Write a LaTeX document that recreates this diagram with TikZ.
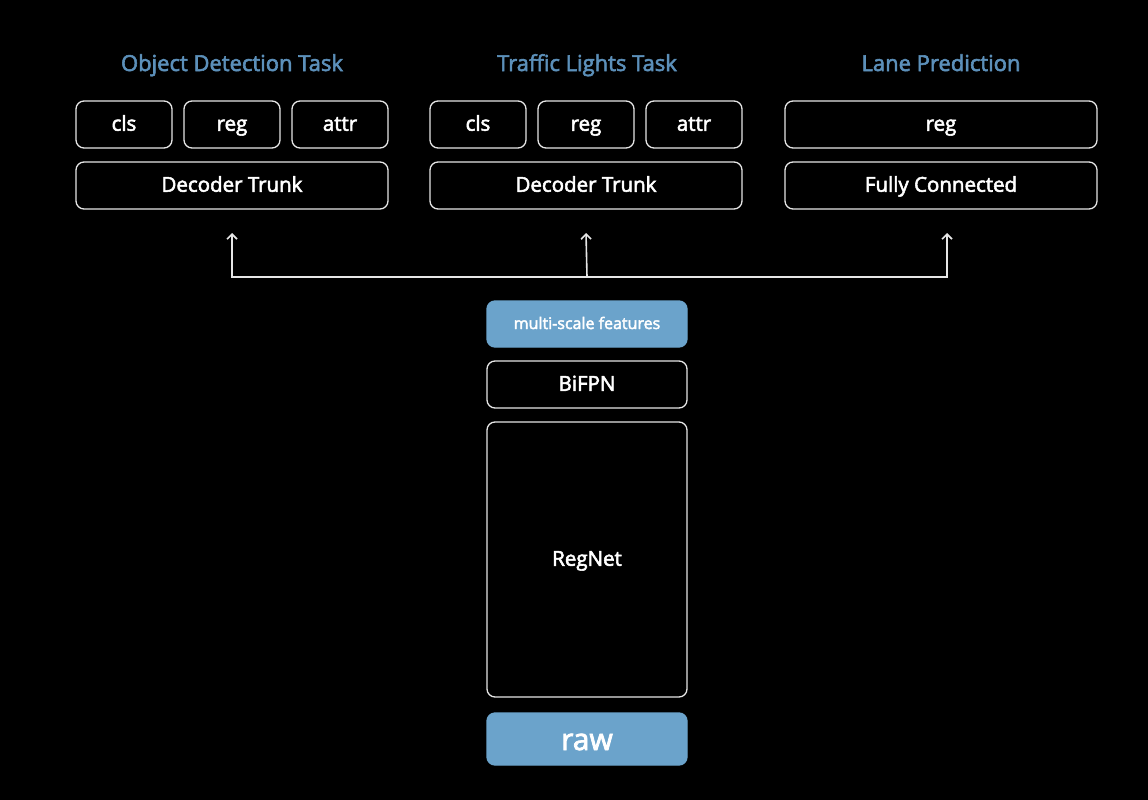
\documentclass[tikz,border=0pt]{standalone}
\usepackage{fontspec}
\setmainfont{Open Sans}
\newfontfamily\medfont{Open Sans}[FakeBold=2.6]
\usetikzlibrary{positioning,arrows.meta}
\definecolor{skyfill}{HTML}{6BA3CB}
\definecolor{tasktitle}{HTML}{5C90BA}
\definecolor{edge}{HTML}{E6E6E6}

\tikzset{
  box/.style={draw=edge, line width=1.3pt, rounded corners=8pt, minimum height=47pt, inner sep=0pt, outer sep=0pt,
    text=white, text height=14pt, text depth=1.5pt, font=\medfont\fontsize{20.5}{20.5}\selectfont},
  head/.style={box, minimum width=96pt},
  trunk/.style={box, minimum width=312pt},
  col/.style={box, minimum width=200pt},
  filled/.style={col, fill=skyfill, draw=skyfill},
  title/.style={text=tasktitle, anchor=base, inner sep=0pt, font=\medfont\fontsize{22}{22}\selectfont},
  link/.style={-{Straight Barb[length=5pt,width=10pt]}, draw=edge, line width=1.6pt},
}

\begin{document}
\begin{tikzpicture}[x=1pt, y=1pt, node distance=12pt]
\fill[black] (0,0) rectangle (1148,-800);
\useasboundingbox (0,0) rectangle (1148,-800);

% object detection
\node (cls1) [head] at (124,-124.5) {cls};
\node (reg1) [head, right=of cls1] {reg};
\node (attr1) [head, right=of reg1] {attr};
\node (trunk1) [trunk, below=14pt of reg1] {Decoder Trunk};
\node (task1) [title] at (232,-71) {Object Detection Task};

% traffic lights
\node (cls2) [head] at (478,-124.5) {cls};
\node (reg2) [head, right=of cls2] {reg};
\node (attr2) [head, right=of reg2] {attr};
\node (trunk2) [trunk, below=14pt of reg2] {Decoder Trunk};
\node (task2) [title] at (587,-71) {Traffic Lights Task};

% lanes
\node (reg3) [trunk] at (941,-124.5) {reg};
\node (fc3) [trunk, below=14pt of reg3] {Fully Connected};
\node (task3) [title] at (941,-71) {Lane Prediction};

% backbone
\node (multi) [filled, minimum height=46pt, text height=11pt, text depth=1pt, font=\medfont\fontsize{16}{16}\selectfont] at (587,-324) {multi-scale features};
\node (bifpn) [col, below=14pt of multi] {BiFPN};
\node (regnet) [col, minimum height=275pt, below=14pt of bifpn] {RegNet};
\node (raw) [filled, minimum height=52pt, below=16pt of regnet, text height=22pt, text depth=0pt, font=\medfont\fontsize{30}{30}\selectfont] {raw};

\coordinate (bus) at (587,-277);
\coordinate (tip1) at ([yshift=-24pt]trunk1.south);
\coordinate (tip2) at ([yshift=-24pt]trunk2.south);
\coordinate (tip3) at ([xshift=6pt, yshift=-24pt]fc3.south);

\draw[link] (bus) -| (tip1);
\draw[link] (bus) -- (tip2);
\draw[link] (bus) -| (tip3);
\end{tikzpicture}
\end{document}
